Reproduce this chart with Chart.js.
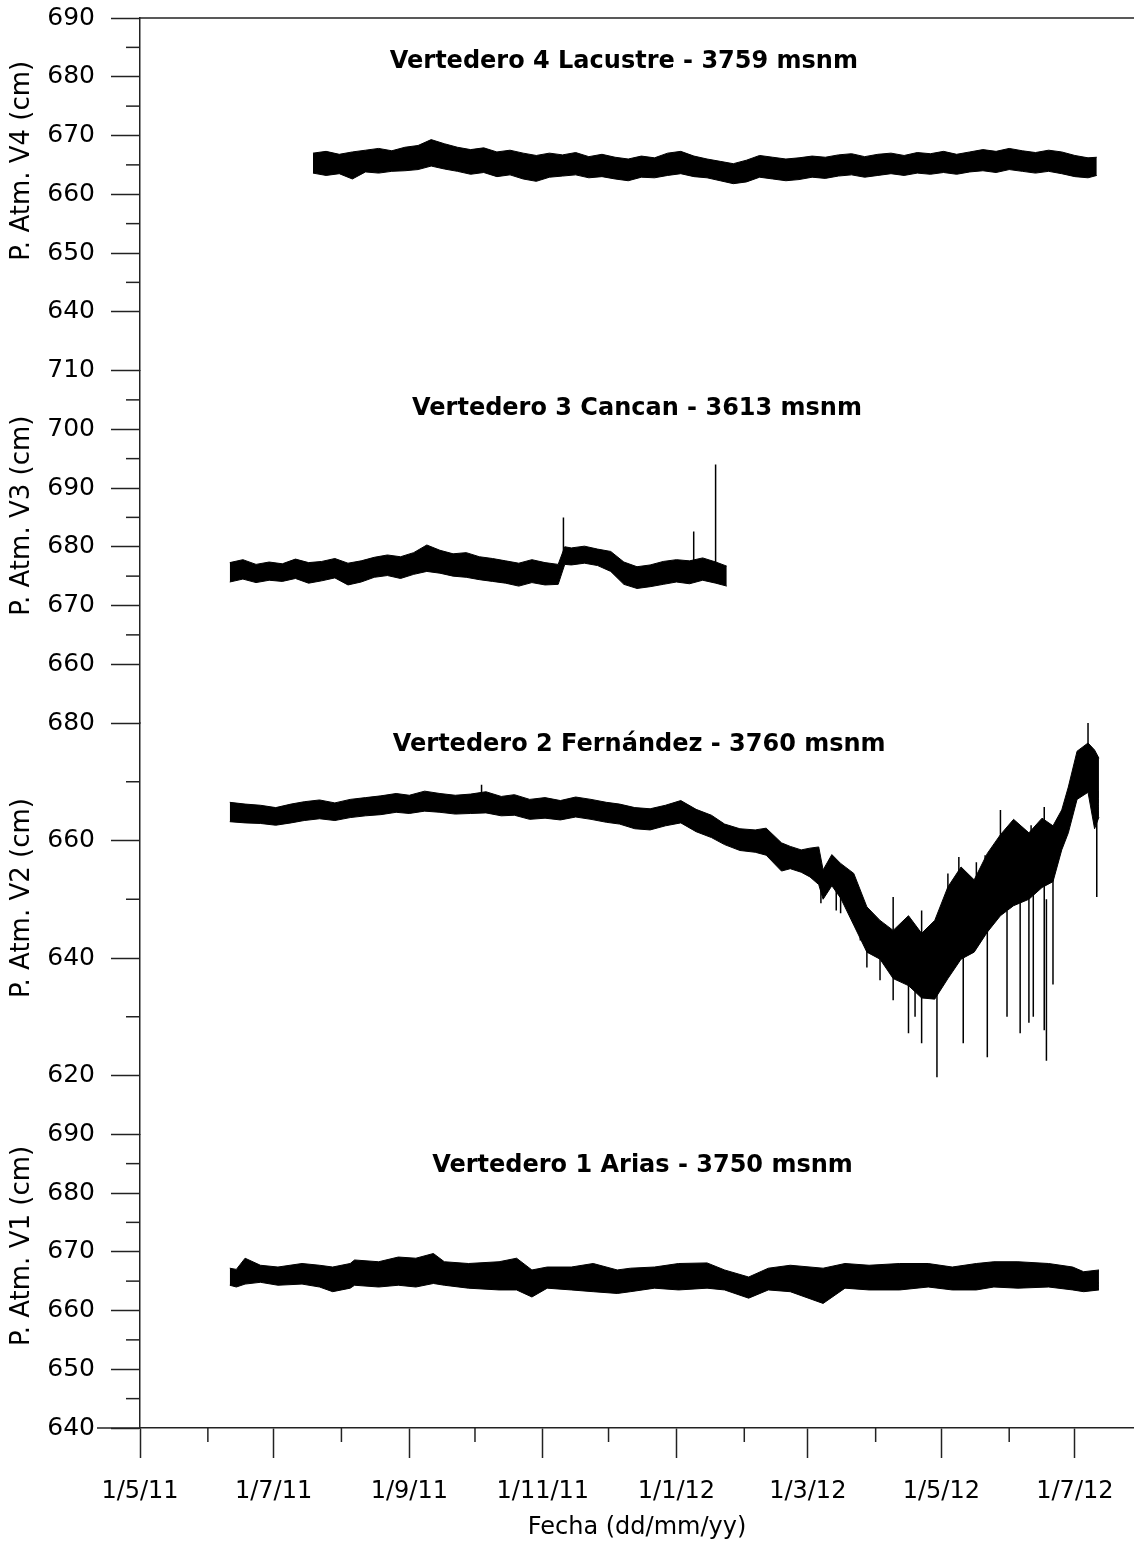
<!DOCTYPE html>
<html>
<head>
<meta charset="utf-8">
<script src="https://cdn.jsdelivr.net/npm/chart.js@4.4.1/dist/chart.umd.min.js"></script>
<style>
html,body{margin:0;padding:0;background:#fff;}
canvas{display:block;}
</style>
</head>
<body>
<canvas id="chart" width="1134" height="1542"></canvas>
<script>
// ---- x axis: days counted from 1/5/11 ----
const monthDays   = [0, 31, 61, 92, 123, 153, 184, 214, 245, 276, 305, 336, 366, 397, 427];
const monthLabels = ['1/5/11','','1/7/11','','1/9/11','','1/11/11','','1/1/12','','1/3/12','','1/5/12','','1/7/12'];

// ---- Vertedero 4 Lacustre (band: upper / lower envelope) ----
const v4Days = [79,85,91,97,103,109,115,121,127,133,139,145,151,157,163,169,175,181,187,193,199,205,211,217,223,229,235,241,247,253,259,265,271,277,283,289,295,301,307,313,319,325,331,337,343,349,355,361,367,373,379,385,391,397,403,409,415,421,427,433,437];
const v4Hi = [667.0,667.3,666.8,667.2,667.5,667.8,667.4,668.0,668.3,669.3,668.6,668.0,667.6,667.9,667.2,667.5,667.0,666.6,667.0,666.7,667.1,666.4,666.8,666.3,666.0,666.5,666.2,667.0,667.3,666.5,666.0,665.6,665.2,665.8,666.6,666.3,666.0,666.2,666.5,666.3,666.7,666.9,666.4,666.8,667.0,666.6,667.1,666.9,667.3,666.8,667.2,667.6,667.3,667.8,667.4,667.1,667.5,667.2,666.6,666.2,666.3];
const v4Lo = [663.6,663.2,663.5,662.6,663.8,663.6,663.9,664.0,664.2,664.8,664.3,663.9,663.4,663.7,663.0,663.3,662.6,662.2,662.9,663.1,663.3,662.8,663.0,662.6,662.3,662.9,662.8,663.2,663.5,663.0,662.8,662.3,661.8,662.1,662.9,662.6,662.3,662.5,662.9,662.7,663.1,663.3,662.9,663.2,663.5,663.2,663.6,663.4,663.7,663.4,663.8,664.0,663.7,664.2,663.9,663.6,663.9,663.5,663.0,662.8,663.2];

// ---- Vertedero 3 Cancan ----
const v3Days = [41,47,53,59,65,71,77,83,89,95,101,107,113,119,125,131,137,143,149,155,161,167,173,179,185,191,194,197,203,209,215,221,227,233,239,245,251,257,263,268];
const v3Hi = [677.3,677.8,677.0,677.4,677.1,677.9,677.3,677.5,678.0,677.2,677.6,678.2,678.6,678.3,679.0,680.3,679.4,678.8,679.0,678.3,678.0,677.6,677.2,677.8,677.3,677.0,680.0,679.8,680.1,679.6,679.2,677.4,676.6,676.9,677.5,677.8,677.6,678.1,677.4,676.7];
const v3Lo = [674.0,674.5,673.9,674.3,674.1,674.6,673.8,674.2,674.7,673.5,674.0,674.8,675.1,674.6,675.3,675.8,675.5,675.0,674.8,674.4,674.1,673.8,673.3,673.9,673.5,673.6,677.0,676.9,677.2,676.8,675.8,673.6,672.9,673.2,673.6,674.0,673.7,674.3,673.8,673.3];
const v3SpikeDays = [193.4, 252.9, 262.9];
const v3SpikeLo = [677.0, 676.0, 676.0];
const v3SpikeHi = [685.0, 682.6, 694.0];

// ---- Vertedero 2 Fernández ----
const v2Days = [41,48,55,62,69,75,82,89,96,103,110,117,123,130,137,144,151,158,165,171,178,185,192,199,206,213,219,226,233,240,247,254,261,267,274,281,286,293,297,302,306,310,312,316,320,326,332,338,344,351,357,363,369,375,381,387,393,399,406,412,417,421,424,428,433,436,438];
const v2Hi = [666.5,666.2,666.0,665.6,666.2,666.6,666.9,666.4,667.0,667.3,667.6,668.0,667.7,668.4,668.0,667.7,667.9,668.3,667.5,667.8,667.0,667.3,666.8,667.4,667.0,666.5,666.2,665.6,665.4,666.0,666.8,665.3,664.3,662.8,662.0,661.8,662.1,659.6,659.0,658.4,658.7,658.9,655.0,657.6,656.1,654.4,648.7,646.4,644.7,647.2,644.2,646.4,652.1,655.5,653.3,657.8,661.0,663.6,661.3,663.8,662.5,665.2,669.1,675.2,676.6,675.4,674.0];
const v2Lo = [663.2,663.0,662.9,662.6,663.0,663.4,663.7,663.4,663.9,664.2,664.4,664.8,664.6,665.0,664.8,664.5,664.6,664.7,664.2,664.3,663.6,663.8,663.5,664.0,663.6,663.1,662.8,662.0,661.8,662.5,663.0,661.5,660.5,659.3,658.3,658.0,657.5,654.8,655.2,654.6,653.8,652.5,650.0,652.3,650.2,645.6,641.0,639.8,636.5,635.3,633.2,633.0,636.5,639.8,641.0,644.4,647.2,648.9,650.0,652.0,653.0,658.4,661.3,667.0,668.2,662.0,664.0];
const v2SpikeDays = [156,311,318,320,327,329,332,338,344,351,354,357,364,369,374,376,382,386,387,393,396,402,406,407,408,413,414,417,433,437];
const v2SpikeLo = [665.0,649.3,648.1,647.6,646.4,643.0,638.4,636.2,632.8,627.2,630.0,625.5,619.7,640.0,645.0,625.5,645.0,648.0,623.1,650.0,630.0,627.2,629.0,652.0,630.0,627.7,622.5,635.5,670.0,650.4];
const v2SpikeHi = [669.5,655.0,655.0,654.0,652.0,650.0,648.0,646.0,650.4,646.0,645.0,648.1,644.0,654.4,657.2,640.0,656.3,657.5,650.0,665.2,648.0,660.0,658.0,662.6,660.0,665.7,650.0,655.0,680.5,670.0];

// ---- Vertedero 1 Arias ----
const v1Days = [41,44,48,55,63,74,82,88,96,98,109,118,126,134,139,150,164,172,179,186,197,207,218,224,235,246,259,267,278,287,297,312,322,333,347,360,371,382,390,401,415,426,431,438];
const v1Hi = [667.2,667.0,668.9,667.7,667.4,668.0,667.7,667.4,668.0,668.6,668.3,669.1,668.9,669.7,668.3,668.0,668.3,668.9,666.9,667.4,667.4,668.0,666.9,667.2,667.4,668.0,668.1,666.9,665.7,667.2,667.7,667.2,668.0,667.7,668.0,668.0,667.4,668.0,668.3,668.3,668.0,667.4,666.6,666.9];
const v1Lo = [664.3,664.0,664.5,664.8,664.3,664.5,664.0,663.2,663.8,664.3,664.0,664.3,664.0,664.6,664.3,663.8,663.5,663.5,662.3,663.8,663.5,663.2,662.9,663.2,663.8,663.5,663.8,663.5,662.1,663.5,663.2,661.2,663.8,663.5,663.5,664.0,663.5,663.5,664.0,663.8,664.0,663.5,663.2,663.5];

// ---- panels (top to bottom) ----
const panels = [
  {id:'y4', min:630, max:690, visMin:640, minor:5,  major:10, yTitle:'P. Atm. V4 (cm)', yTitleAt:665.7,
   title:'Vertedero 4 Lacustre - 3759 msnm', titleDay:221, titleAt:682.5},
  {id:'y3', min:650, max:710, visMin:660, minor:5,  major:10, yTitle:'P. Atm. V3 (cm)', yTitleAt:685.3,
   title:'Vertedero 3 Cancan - 3613 msnm', titleDay:227, titleAt:703.5},
  {id:'y2', min:610, max:680, visMin:620, minor:10, major:20, yTitle:'P. Atm. V2 (cm)', yTitleAt:650.2,
   title:'Vertedero 2 Fernández - 3760 msnm', titleDay:228, titleAt:676.3},
  {id:'y1', min:640, max:690, visMin:640, minor:5,  major:10, yTitle:'P. Atm. V1 (cm)', yTitleAt:671.0,
   title:'Vertedero 1 Arias - 3750 msnm', titleDay:229.5, titleAt:684.6}
];

const AXIS = '#222';
const INK = '#000';
const FONT = 'DejaVu Sans';
Chart.defaults.font.family = FONT;
Chart.defaults.color = INK;

const pts = (days, vals) => days.map((d, i) => ({x: d, y: vals[i]}));
function spikes(days, lo, hi){
  const out = [];
  days.forEach((d, i) => { out.push({x:d, y:lo[i]}, {x:d, y:hi[i]}, {x:d, y:null}); });
  return out;
}
function band(days, hi, lo, axis){
  return [
    {data: pts(days, hi), yAxisID: axis, borderColor: INK, borderWidth: 1, pointRadius: 0, fill: false},
    {data: pts(days, lo), yAxisID: axis, borderColor: INK, borderWidth: 1, pointRadius: 0, fill: '-1', backgroundColor: INK}
  ];
}
function spikeSet(days, lo, hi, axis){
  return {data: spikes(days, lo, hi), yAxisID: axis, borderColor: INK, borderWidth: 1.5, pointRadius: 0, spanGaps: false, fill: false};
}

const datasets = [
  ...band(v4Days, v4Hi, v4Lo, 'y4'),
  ...band(v3Days, v3Hi, v3Lo, 'y3'),
  spikeSet(v3SpikeDays, v3SpikeLo, v3SpikeHi, 'y3'),
  ...band(v2Days, v2Hi, v2Lo, 'y2'),
  spikeSet(v2SpikeDays, v2SpikeLo, v2SpikeHi, 'y2'),
  ...band(v1Days, v1Hi, v1Lo, 'y1')
];

function yScale(p){
  return {
    type: 'linear', position: 'left', stack: 'panels', stackWeight: p.max - p.min,
    min: p.min, max: p.max,
    border: {display: true, color: AXIS, width: 1.5},
    grid: {drawOnChartArea: false, drawTicks: true, tickLength: 29, tickWidth: 1.5,
      tickColor: c => (c.tick && c.tick.value % p.major === 0) ? AXIS : 'rgba(0,0,0,0)'},
    ticks: {stepSize: p.minor, padding: 16, color: INK, font: {size: 25}, autoSkip: false,
      callback: v => (v % p.major === 0 ? String(v) : '')},
    afterBuildTicks: s => { s.ticks = s.ticks.filter(t => t.value >= p.visMin); },
    afterFit: s => { s.width = 140; s.paddingTop = 0; s.paddingBottom = 0; }
  };
}

const scales = {
  x: {
    type: 'linear', position: 'bottom', min: 0, max: 454, offset: false,
    border: {display: true, color: AXIS, width: 1.5},
    grid: {drawOnChartArea: false, drawTicks: true, tickLength: 30, tickWidth: 1.5, offset: false,
      tickColor: c => (c.tick && monthLabels[monthDays.indexOf(c.tick.value)]) ? AXIS : 'rgba(0,0,0,0)'},
    ticks: {autoSkip: false, maxRotation: 0, padding: 19, color: INK, font: {size: 24},
      callback: v => monthLabels[monthDays.indexOf(v)] || ''},
    afterBuildTicks: s => { s.ticks = monthDays.map(v => ({value: v})); },
    title: {display: true, text: 'Fecha (dd/mm/yy)', color: INK, font: {size: 24}, padding: {top: 0, bottom: 0}},
    afterFit: s => { s.height = 114; s.paddingLeft = 0; s.paddingRight = 0; }
  }
};
// stacked scales: the last one defined sits on top
[...panels].reverse().forEach(p => { scales[p.id] = yScale(p); });

const decorations = {
  id: 'decorations',
  afterDraw(chart){
    const ctx = chart.ctx, a = chart.chartArea;
    const seg = (x1, y1, x2, y2) => { ctx.beginPath(); ctx.moveTo(x1, y1); ctx.lineTo(x2, y2); ctx.stroke(); };
    ctx.save();
    ctx.strokeStyle = AXIS;
    ctx.lineWidth = 1.5;
    seg(a.left, a.top, a.right, a.top);
    seg(a.left - 43, a.bottom, a.left, a.bottom);
    // minor ticks
    panels.forEach(p => {
      const s = chart.scales[p.id];
      s.ticks.forEach(t => {
        if (t.value % p.major !== 0) { const y = s.getPixelForValue(t.value); seg(a.left - 14, y, a.left, y); }
      });
    });
    const sx = chart.scales.x;
    sx.ticks.forEach(t => {
      if (!monthLabels[monthDays.indexOf(t.value)]) { const x = sx.getPixelForValue(t.value); seg(x, a.bottom, x, a.bottom + 14); }
    });
    // texts
    ctx.fillStyle = INK;
    ctx.textAlign = 'center';
    ctx.textBaseline = 'middle';
    panels.forEach(p => {
      const s = chart.scales[p.id];
      ctx.font = 'bold 24px "' + FONT + '"';
      ctx.fillText(p.title, sx.getPixelForValue(p.titleDay), s.getPixelForValue(p.titleAt));
      ctx.save();
      ctx.translate(22, s.getPixelForValue(p.yTitleAt));
      ctx.rotate(-Math.PI / 2);
      ctx.font = '26px "' + FONT + '"';
      ctx.fillText(p.yTitle, 0, 0);
      ctx.restore();
    });
    ctx.restore();
  }
};

new Chart(document.getElementById('chart'), {
  type: 'line',
  data: {datasets},
  options: {
    responsive: false,
    animation: false,
    layout: {padding: {top: 18, right: 0, left: 0, bottom: 0}},
    plugins: {legend: {display: false}, tooltip: {enabled: false}},
    elements: {line: {tension: 0}},
    scales
  },
  plugins: [decorations]
});
</script>
</body>
</html>
